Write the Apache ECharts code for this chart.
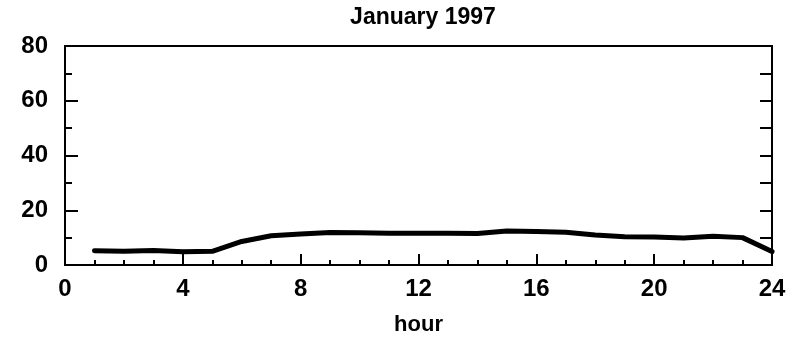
<!DOCTYPE html>
<html>
<head>
<meta charset="utf-8">
<script src="https://cdn.jsdelivr.net/npm/echarts@6/dist/echarts.min.js"></script>
<style>html,body{margin:0;padding:0;background:#fff;}#c{width:801px;height:341px;}</style>
</head>
<body>
<div id="c"></div>
<script>
const hours = [1,2,3,4,5,6,7,8,9,10,11,12,13,14,15,16,17,18,19,20,21,22,23,24];
const values = [5.2,5.0,5.3,4.8,5.0,8.6,10.7,11.3,11.9,11.8,11.6,11.6,11.6,11.5,12.4,12.2,12.0,11.0,10.3,10.2,9.9,10.5,10.0,4.9];
const titleText = 'January 1997';
const xName = 'hour';

const chart = echarts.init(document.getElementById('c'), null, {renderer:'canvas'});
const font = 'Liberation Sans, Arial, sans-serif';
chart.setOption({
  animation:false,
  backgroundColor:'#fff',
  title:{text:titleText, left:418, top:1, textAlign:'center',
    textStyle:{fontFamily:font, fontSize:23, fontWeight:'bold', color:'#000'}},
  grid:{left:65, right:29, top:46, bottom:74, show:true, borderColor:'#000', borderWidth:2, backgroundColor:'transparent'},
  xAxis:[{
    type:'value', min:0, max:24, interval:4,
    name:xName, nameLocation:'middle', nameGap:49,
    nameTextStyle:{fontFamily:font, fontSize:22, fontWeight:'bold', color:'#000'},
    axisLine:{show:true, lineStyle:{color:'#000', width:2}},
    axisTick:{show:true, inside:true, length:11, lineStyle:{color:'#000', width:2}},
    minorTick:{show:true, splitNumber:4, length:5, lineStyle:{color:'#000', width:2}},
    splitLine:{show:false},
    axisLabel:{fontFamily:font, fontSize:24, fontWeight:'bold', color:'#000', margin:12}
  }],
  yAxis:[{
    type:'value', min:0, max:80, interval:20,
    axisLine:{show:true, lineStyle:{color:'#000', width:2}},
    axisTick:{show:true, inside:true, length:13, lineStyle:{color:'#000', width:2}},
    minorTick:{show:true, splitNumber:2, length:7, lineStyle:{color:'#000', width:2}},
    splitLine:{show:false},
    axisLabel:{fontFamily:font, fontSize:24, fontWeight:'bold', color:'#000', margin:17}
  },{
    type:'value', min:0, max:80, interval:10, position:'right',
    axisLine:{show:true, lineStyle:{color:'#000', width:2}},
    axisTick:{show:true, inside:true, length:12, lineStyle:{color:'#000', width:2}},
    splitLine:{show:false},
    axisLabel:{show:false}
  }],
  series:[{
    type:'line', xAxisIndex:0, yAxisIndex:0,
    data:hours.map((h,i)=>[h, values[i]]),
    showSymbol:false, symbol:'none',
    lineStyle:{color:'#000', width:5, cap:'round', join:'round'}
  }]
});
</script>
</body>
</html>
